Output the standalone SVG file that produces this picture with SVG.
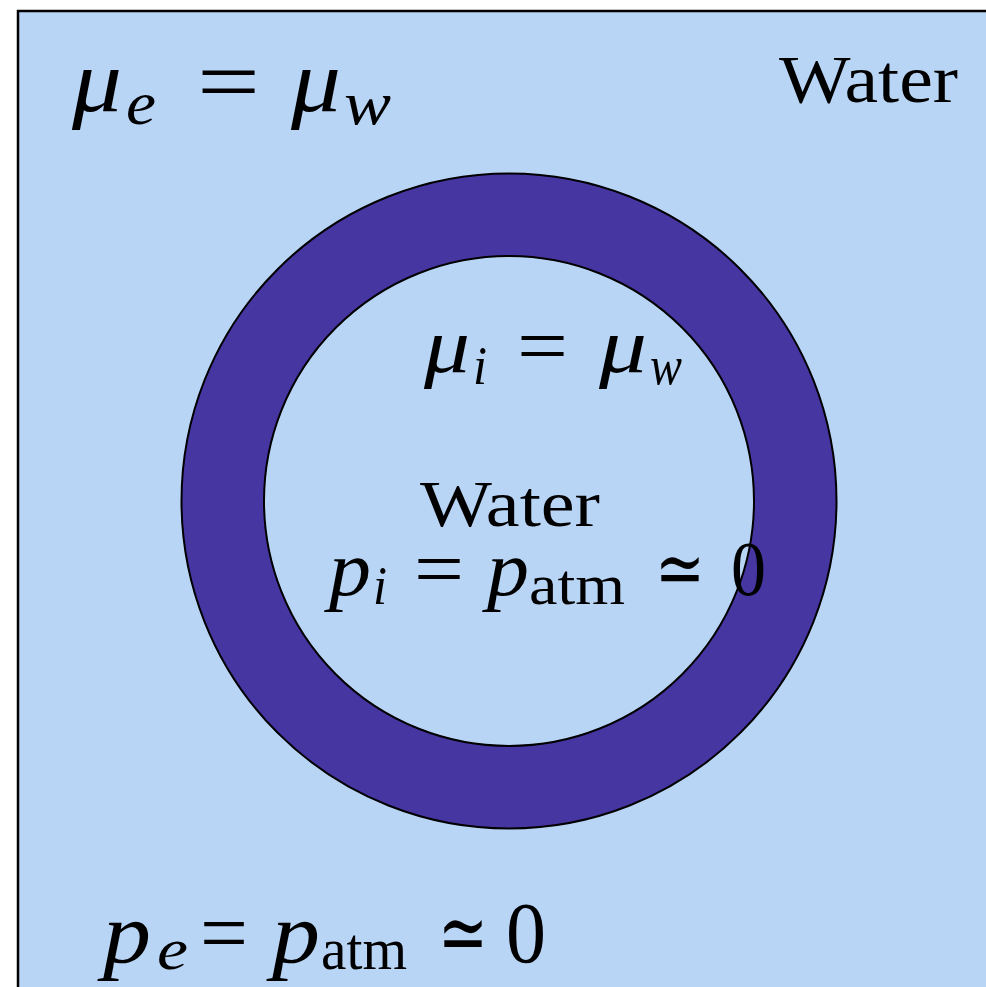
<svg xmlns="http://www.w3.org/2000/svg" width="986" height="987" viewBox="0 0 986 987">
<style>
.m{font-family:"Liberation Serif","DejaVu Serif",serif;font-style:italic;fill:#000}
.r{font-family:"Liberation Serif","DejaVu Serif",serif;fill:#000}
</style>
<rect width="986" height="987" fill="#fff"/>
<g id="water-outer">
<rect x="18" y="11" width="990" height="990" fill="#B9D5F5" stroke="#000" stroke-width="2.5"/>
</g>
<g id="ring">
<circle cx="509" cy="501" r="327.5" fill="#4636A2" stroke="#000" stroke-width="2"/>
<circle cx="509" cy="501" r="245" fill="#B9D5F5" stroke="#000" stroke-width="2"/>
</g>
<g id="label-water-outer">
<text class="r" x="779" y="102" font-size="68" textLength="179" lengthAdjust="spacingAndGlyphs">Water</text>
</g>
<g id="label-water-inner">
<text class="r" x="420" y="526" font-size="66" textLength="180" lengthAdjust="spacingAndGlyphs">Water</text>
</g>
<g id="eq-mu-e">
<text class="m" x="72" y="111" font-size="88" textLength="50" lengthAdjust="spacingAndGlyphs">μ</text>
<text class="m" x="126" y="124" font-size="62" textLength="30" lengthAdjust="spacingAndGlyphs">e</text>
<text class="r" x="197" y="111" font-size="88" textLength="63" lengthAdjust="spacingAndGlyphs">=</text>
<text class="m" x="291" y="111" font-size="88" textLength="50" lengthAdjust="spacingAndGlyphs">μ</text>
<text class="m" x="344" y="124" font-size="62" textLength="47" lengthAdjust="spacingAndGlyphs">w</text>
</g>
<g id="eq-mu-i">
<text class="m" x="424" y="372" font-size="78" textLength="46" lengthAdjust="spacingAndGlyphs">μ</text>
<text class="m" x="473" y="384" font-size="54" textLength="14" lengthAdjust="spacingAndGlyphs">i</text>
<text class="r" x="517" y="372" font-size="78" textLength="51" lengthAdjust="spacingAndGlyphs">=</text>
<text class="m" x="599" y="372" font-size="78" textLength="48" lengthAdjust="spacingAndGlyphs">μ</text>
<text class="m" x="650" y="384" font-size="54" textLength="32" lengthAdjust="spacingAndGlyphs">w</text>
</g>
<g id="eq-p-i">
<text class="m" x="329" y="595" font-size="78" textLength="42" lengthAdjust="spacingAndGlyphs">p</text>
<text class="m" x="373" y="604" font-size="54" textLength="14" lengthAdjust="spacingAndGlyphs">i</text>
<text class="r" x="414" y="595" font-size="78" textLength="50" lengthAdjust="spacingAndGlyphs">=</text>
<text class="m" x="487" y="595" font-size="78" textLength="42" lengthAdjust="spacingAndGlyphs">p</text>
<text class="r" x="529" y="604" font-size="56" textLength="96" lengthAdjust="spacingAndGlyphs">atm</text>
<text class="r" x="655" y="595" font-size="78" textLength="50" lengthAdjust="spacingAndGlyphs">≃</text>
<text class="r" x="731" y="595" font-size="78" textLength="35" lengthAdjust="spacingAndGlyphs">0</text>
</g>
<g id="eq-p-e">
<text class="m" x="103" y="962" font-size="86" textLength="48" lengthAdjust="spacingAndGlyphs">p</text>
<text class="m" x="157" y="969" font-size="60" textLength="31" lengthAdjust="spacingAndGlyphs">e</text>
<text class="r" x="200" y="962" font-size="86" textLength="48" lengthAdjust="spacingAndGlyphs">=</text>
<text class="m" x="272" y="962" font-size="86" textLength="48" lengthAdjust="spacingAndGlyphs">p</text>
<text class="r" x="321" y="969" font-size="60" textLength="86" lengthAdjust="spacingAndGlyphs">atm</text>
<text class="r" x="438" y="962" font-size="86" textLength="50" lengthAdjust="spacingAndGlyphs">≃</text>
<text class="r" x="506" y="962" font-size="86" textLength="40" lengthAdjust="spacingAndGlyphs">0</text>
</g>
</svg>
